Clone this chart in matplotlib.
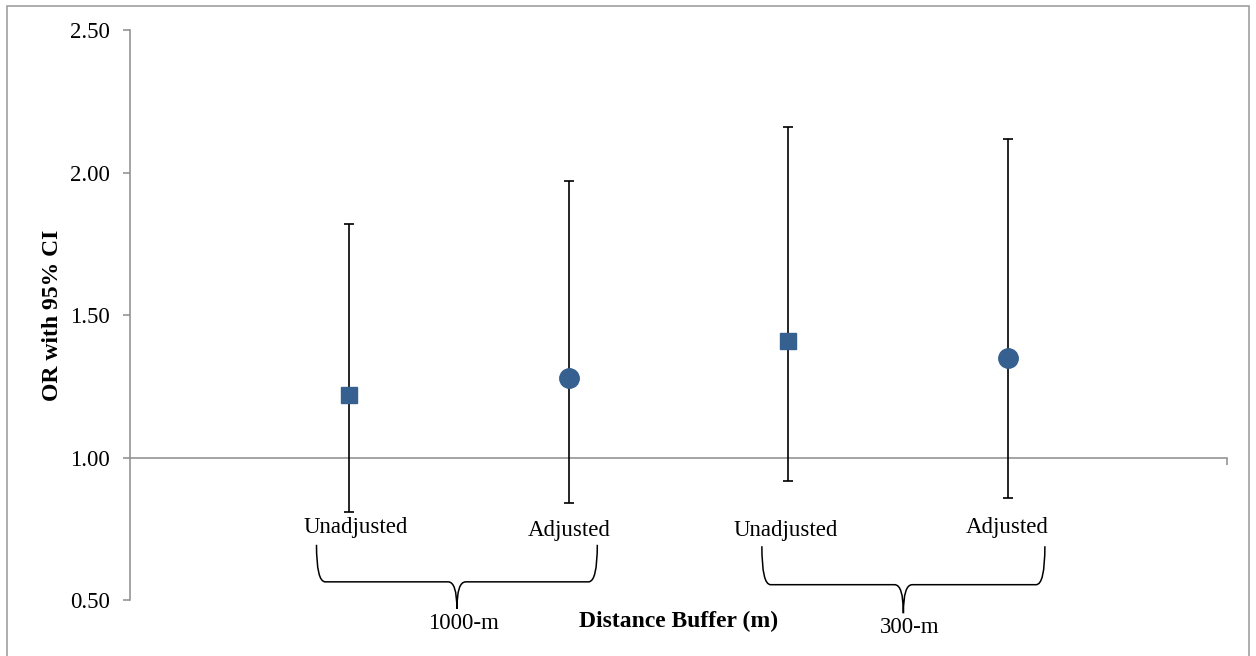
import matplotlib
matplotlib.use("Agg")
import matplotlib.pyplot as plt
from matplotlib.path import Path
from matplotlib.patches import PathPatch, Rectangle

# data
categories = ["Unadjusted", "Adjusted", "Unadjusted", "Adjusted"]
buffers = ["1000-m", "300-m"]
odds_ratio = [1.22, 1.28, 1.41, 1.35]
ci_low = [0.81, 0.84, 0.92, 0.86]
ci_high = [1.82, 1.97, 2.16, 2.12]
y_ticks = [0.50, 1.00, 1.50, 2.00, 2.50]

plt.rcParams["font.family"] = ["Liberation Serif", "DejaVu Serif"]

blue = "#35608f"
grey = "#8c8c8c"

fig = plt.figure(figsize=(12.56, 6.56), dpi=100)
ax = fig.add_axes([0.1035, 0.0848, 0.8734, 0.869])

xpos = [i + 1 for i in range(len(categories))]
markers = {"Unadjusted": "s", "Adjusted": "o"}
sizes = {"Unadjusted": 12, "Adjusted": 14}

for x, cat, v, lo, hi in zip(xpos, categories, odds_ratio, ci_low, ci_high):
    ax.errorbar(x, v, yerr=[[v - lo], [hi - v]], fmt=markers[cat],
                ms=sizes[cat], color=blue, mec=blue, ecolor="black",
                elinewidth=1.2, capsize=3.5, capthick=1.2, zorder=3,
                clip_on=False)

ax.set_xlim(0, len(categories) + 1)
ax.set_ylim(0.5, 2.5)
ax.set_yticks(y_ticks)
ax.set_yticklabels([f"{t:.2f}" for t in y_ticks], fontsize=16.5)
ax.set_xticks([len(categories) + 1])
ax.set_xticklabels([""])

for s in ["top", "right"]:
    ax.spines[s].set_visible(False)
ax.spines["left"].set_color(grey)
ax.spines["left"].set_linewidth(1.1)
ax.spines["bottom"].set_position(("data", 1.0))
ax.spines["bottom"].set_color(grey)
ax.spines["bottom"].set_linewidth(1.1)
ax.tick_params(axis="both", direction="out", length=5, width=1.1, color=grey,
               pad=9.5)

ax.set_ylabel("OR with 95% CI", fontsize=17, fontweight="bold", labelpad=5)

# category labels under the bars (text boxes in the original)
label_y = [0.755, 0.745, 0.745, 0.755]
label_dx = [0.03, 0.0, -0.01, 0.0]
for x, cat, ly, dx in zip(xpos, categories, label_y, label_dx):
    ax.text(x + dx, ly, cat, ha="center", va="center", fontsize=16.5,
            clip_on=False)


def brace(x0, x1, ytop, ymid, ytip):
    xm = (x0 + x1) / 2
    r = 0.04
    verts = [(x0, ytop), (x0, ymid), (x0 + r, ymid),
             (xm - r, ymid),
             (xm, ymid), (xm, ytip),
             (xm, ymid), (xm + r, ymid),
             (x1 - r, ymid),
             (x1, ymid), (x1, ytop)]
    codes = [Path.MOVETO, Path.CURVE3, Path.CURVE3,
             Path.LINETO,
             Path.CURVE3, Path.CURVE3,
             Path.CURVE3, Path.CURVE3,
             Path.LINETO,
             Path.CURVE3, Path.CURVE3]
    ax.add_patch(PathPatch(Path(verts, codes), fc="none", ec="black",
                           lw=1.1, clip_on=False))
    return xm


brace_spans = [(0.85, 2.13, 0.695, 0.565, 0.47),
               (2.88, 4.17, 0.69, 0.555, 0.455)]
buffer_y = [0.42, 0.405]
for (x0, x1, yt, ym, ytip), name, by in zip(brace_spans, buffers, buffer_y):
    xm = brace(x0, x1, yt, ym, ytip)
    ax.text(xm + 0.03, by, name, ha="center", va="center", fontsize=16.5,
            clip_on=False)

ax.text(2.5, 0.425, "Distance Buffer (m)", ha="center", va="center",
        fontsize=17, fontweight="bold", clip_on=False)

# outer frame of the chart area
fig.add_artist(Rectangle((7 / 1256, -0.02), 1242 / 1256, 1 - 6 / 656 + 0.02,
                         transform=fig.transFigure, fill=False,
                         ec="#a0a0a0", lw=1.2))

fig.savefig("out.png", dpi=100)
